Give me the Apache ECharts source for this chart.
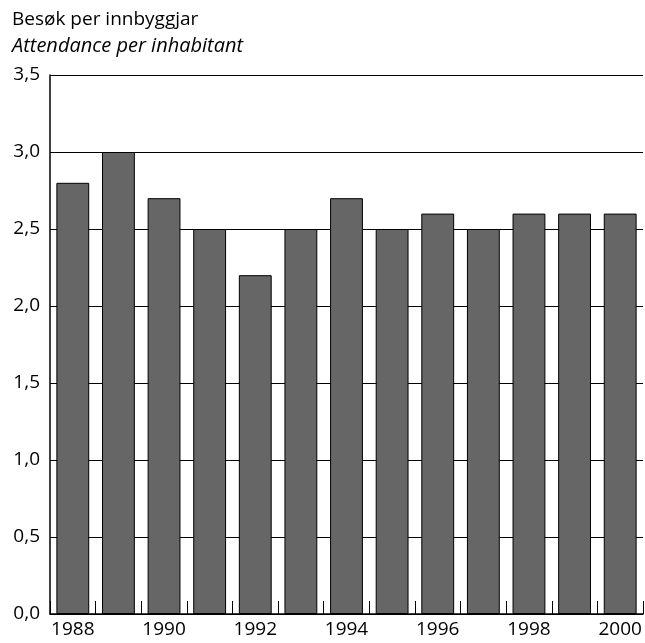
<!DOCTYPE html>
<html>
<head>
<meta charset="utf-8">
<script src="https://cdn.jsdelivr.net/npm/echarts@6/dist/echarts.min.js"></script>
<style>
  html, body { margin: 0; padding: 0; background: #fff; }
  #chart { width: 645px; height: 643px; }
</style>
</head>
<body>
<div id="chart"></div>
<script>
let years = ['1988', '1989', '1990', '1991', '1992', '1993', '1994', '1995', '1996', '1997', '1998', '1999', '2000'];
let attendance = [2.8, 3.0, 2.7, 2.5, 2.2, 2.5, 2.7, 2.5, 2.6, 2.5, 2.6, 2.6, 2.6];
let titleNo = 'Besøk per innbyggjar';
let titleEn = 'Attendance per inhabitant';

let font = '"Open Sans", "DejaVu Sans", sans-serif';

let option = {
    animation: false,
    title: {
        left: 7,
        top: 5,
        text: titleNo,
        subtext: titleEn,
        itemGap: 7,
        textStyle: { fontFamily: font, fontSize: 19, fontWeight: 'normal', color: '#000' },
        subtextStyle: { fontFamily: font, fontSize: 20, fontStyle: 'italic', color: '#000' }
    },
    grid: { left: 50, right: 2, top: 75, bottom: 29 },
    xAxis: {
        type: 'category',
        data: years,
        axisLine: { lineStyle: { color: '#000', width: 1.5 } },
        axisTick: { show: true, inside: true, length: 13, interval: 0, lineStyle: { color: '#000' } },
        axisLabel: { interval: 1, color: '#000', fontFamily: font, fontSize: 19, margin: 6 }
    },
    yAxis: {
        type: 'value',
        min: 0,
        max: 3.5,
        interval: 0.5,
        axisLine: { show: true, lineStyle: { color: '#000', width: 1.5 } },
        axisTick: { show: false },
        splitLine: { lineStyle: { color: '#000', width: 1.2 } },
        axisLabel: {
            color: '#000', fontFamily: font, fontSize: 19, margin: 10,
            formatter: v => v.toFixed(1).replace('.', ',')
        }
    },
    series: [
        {
            type: 'bar',
            data: attendance,
            barWidth: '72%',
            itemStyle: { color: '#666666', borderColor: '#000', borderWidth: 1 }
        }
    ]
};

let chart = echarts.init(document.getElementById('chart'));
chart.setOption(option);
</script>
</body>
</html>
